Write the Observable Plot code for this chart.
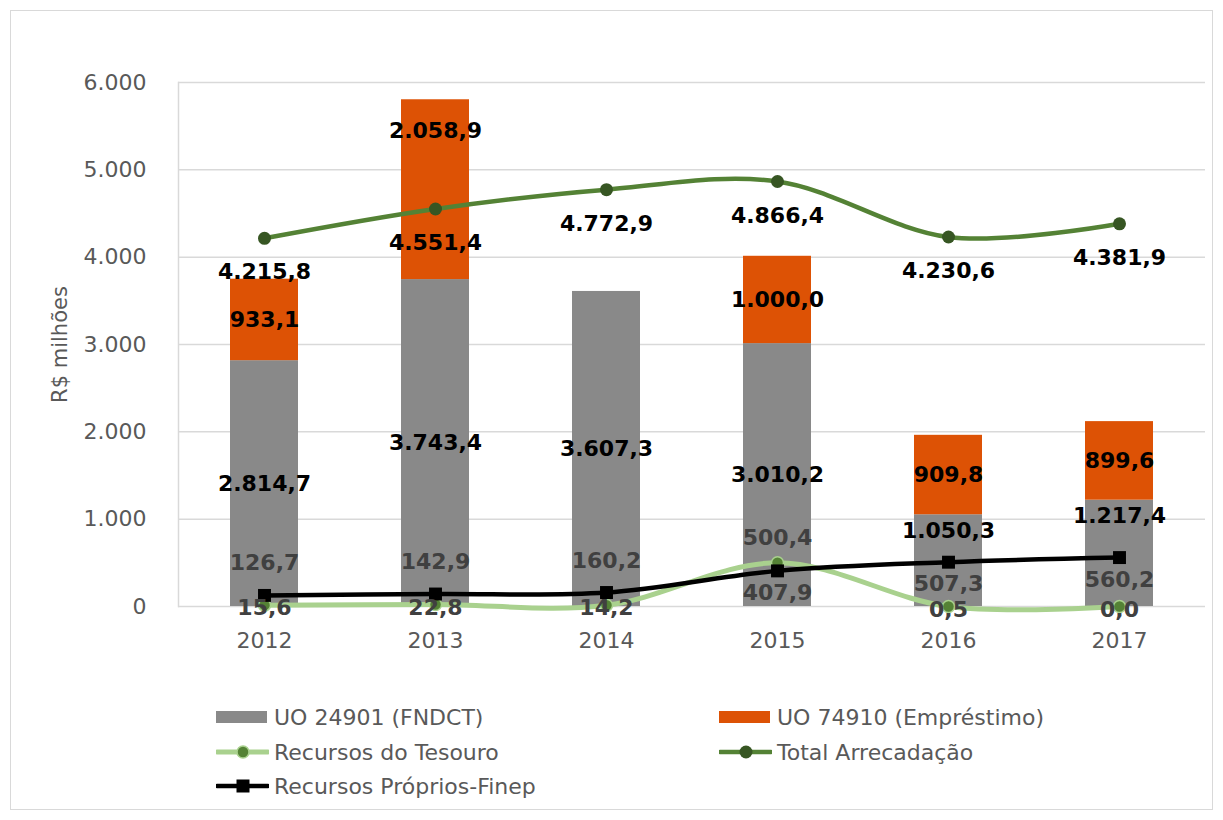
<!DOCTYPE html>
<html>
<head>
<meta charset="utf-8">
<script src="https://cdn.jsdelivr.net/npm/d3@7"></script>
<script src="https://cdn.jsdelivr.net/npm/@observablehq/plot@0.6"></script>
<style>
  html, body { margin: 0; padding: 0; background: #fff; }
  #wrap { position: relative; width: 1223px; height: 820px; overflow: hidden; font-family: "DejaVu Sans", sans-serif; }
  #border { position: absolute; left: 10px; top: 10px; width: 1201px; height: 798px; border: 1.5px solid #d9d9d9; }
  #chart { position: absolute; left: 0; top: 0; }
  #legend { position: absolute; left: 0; top: 0; width: 1223px; height: 820px; pointer-events: none; }
  .item { position: absolute; display: flex; align-items: center; height: 30px; font-size: 22px; color: #595959; white-space: nowrap; }
  .item svg { display: block; margin-right: 5px; }
</style>
</head>
<body>
<div id="wrap">
  <div id="border"></div>
  <div id="chart"></div>
  <div id="legend"></div>
</div>
<script>
// ---- data ----
const years = ["2012", "2013", "2014", "2015", "2016", "2017"];
const fndct = [2814.7, 3743.4, 3607.3, 3010.2, 1050.3, 1217.4];
const emprestimo = [933.1, 2058.9, 0, 1000.0, 909.8, 899.6];
const tesouro = [15.6, 22.8, 14.2, 500.4, 0.5, 0.0];
const totalArrecadacao = [4215.8, 4551.4, 4772.9, 4866.4, 4230.6, 4381.9];
const recursosFinep = [126.7, 142.9, 160.2, 407.9, 507.3, 560.2];
const yTicks = [0, 1000, 2000, 3000, 4000, 5000, 6000];
const seriesNames = ["UO 24901 (FNDCT)", "UO 74910 (Empréstimo)", "Recursos do Tesouro", "Total Arrecadação", "Recursos Próprios-Finep"];

// ---- formatting ----
const locale = d3.formatLocale({decimal: ",", thousands: ".", grouping: [3], currency: ["R$ ", ""]});
const fmtTick = locale.format(",.0f");
const fmtVal = locale.format(",.1f");

const C = {
  gray: "#898989", orange: "#dd5205",
  tesouroLine: "#a9d18e", tesouroDot: "#548235",
  totalLine: "#548235", totalDot: "#375623",
  finep: "#000000", label: "#404040", axis: "#595959", grid: "#d9d9d9"
};

// ---- derived tables ----
const grayBars = years.map((year, i) => {
  const mid = fndct[i] / 2;
  const crowded = Math.abs(mid - recursosFinep[i]) < 300;
  return {year, y1: 0, y2: fndct[i], value: fndct[i], crowded};
});
const orangeBars = years.map((year, i) => {
  const lo = fndct[i], hi = fndct[i] + emprestimo[i];
  const mid = (lo + hi) / 2;
  const crowded = Math.abs(mid - totalArrecadacao[i]) < 400;
  return {year, y1: lo, y2: hi, value: emprestimo[i], crowded};
}).filter(d => d.value > 0);

const line = arr => years.map((year, i) => ({year, value: arr[i]}));
const tes = line(tesouro);
const tot = line(totalArrecadacao);
const fin = line(recursosFinep);

const labelFont = {fontSize: 22, fontWeight: "bold", fontFamily: "DejaVu Sans"};

const chart = Plot.plot({
  width: 1223,
  height: 670,
  marginTop: 82,
  marginBottom: 64,
  marginLeft: 178,
  marginRight: 18,
  style: {fontFamily: "DejaVu Sans", fontSize: "22px", color: C.axis, background: "transparent", overflow: "visible"},
  x: {type: "band", domain: years, paddingInner: 0.6, paddingOuter: 0.3, label: null},
  y: {domain: [0, 6000], label: null},
  marks: [
    Plot.gridY(yTicks, {stroke: C.grid, strokeOpacity: 1, strokeWidth: 1.5}),
    Plot.frame({anchor: "left", stroke: C.grid, strokeWidth: 1.5}),
    Plot.axisY(yTicks, {tickSize: 0, tickPadding: 32, tickFormat: fmtTick, fontSize: 22, fill: C.axis, label: null}),
    Plot.axisX({tickSize: 0, tickPadding: 26, fontSize: 22, fill: C.axis, label: null}),
    Plot.text(["R$ milhões"], {frameAnchor: "left", textAnchor: "middle", rotate: -90, dx: -118, fontSize: 21, fill: C.axis}),
    // bars
    Plot.barY(grayBars, {x: "year", y1: "y1", y2: "y2", fill: C.gray}),
    Plot.barY(orangeBars, {x: "year", y1: "y1", y2: "y2", fill: C.orange}),
    // bar labels
    Plot.text(grayBars.filter(d => !d.crowded), {x: "year", y: d => d.y2 / 2, text: d => fmtVal(d.value), fill: "#000", ...labelFont}),
    Plot.text(grayBars.filter(d => d.crowded), {x: "year", y: "y2", dy: 16, text: d => fmtVal(d.value), fill: "#000", ...labelFont}),
    Plot.text(orangeBars.filter(d => !d.crowded), {x: "year", y: d => (d.y1 + d.y2) / 2, text: d => fmtVal(d.value), fill: "#000", ...labelFont}),
    Plot.text(orangeBars.filter(d => d.crowded), {x: "year", y: "y2", dy: 31, text: d => fmtVal(d.value), fill: "#000", ...labelFont}),
    // lines
    Plot.line(tes, {x: "year", y: "value", stroke: C.tesouroLine, strokeWidth: 5, curve: "cardinal"}),
    Plot.dot(tes, {x: "year", y: "value", r: 6, fill: C.tesouroDot, stroke: C.tesouroLine, strokeWidth: 1.5}),
    Plot.line(tot, {x: "year", y: "value", stroke: C.totalLine, strokeWidth: 4.5, curve: "cardinal"}),
    Plot.dot(tot, {x: "year", y: "value", r: 6.5, fill: C.totalDot}),
    Plot.line(fin, {x: "year", y: "value", stroke: C.finep, strokeWidth: 4.5, curve: "cardinal"}),
    Plot.dot(fin, {x: "year", y: "value", r: 7.3, symbol: "square", fill: C.finep}),
    // line labels
    Plot.text(tot, {x: "year", y: "value", dy: 34, text: d => fmtVal(d.value), fill: "#000", ...labelFont}),
    Plot.text(tes.filter(d => d.value < 100), {x: "year", y: "value", dy: 3, text: d => fmtVal(d.value), fill: C.label, ...labelFont}),
    Plot.text(tes.filter(d => d.value >= 100), {x: "year", y: "value", dy: -25, text: d => fmtVal(d.value), fill: C.label, ...labelFont}),
    Plot.text(fin.filter(d => d.value < 300), {x: "year", y: "value", dy: -32, text: d => fmtVal(d.value), fill: C.label, ...labelFont}),
    Plot.text(fin.filter(d => d.value >= 300), {x: "year", y: "value", dy: 22, text: d => fmtVal(d.value), fill: C.label, ...labelFont})
  ]
});
document.getElementById("chart").appendChild(chart);

// ---- legend ----
const icons = [
  `<svg width="53" height="14"><rect x="0" y="1" width="51" height="12" fill="${C.gray}"/></svg>`,
  `<svg width="53" height="14"><rect x="0" y="1" width="51" height="12" fill="${C.orange}"/></svg>`,
  `<svg width="53" height="16"><line x1="1" y1="8" x2="52" y2="8" stroke="${C.tesouroLine}" stroke-width="5" stroke-linecap="round"/><circle cx="27" cy="8" r="6" fill="${C.tesouroDot}" stroke="${C.tesouroLine}" stroke-width="1.5"/></svg>`,
  `<svg width="53" height="16"><line x1="1" y1="8" x2="52" y2="8" stroke="${C.totalLine}" stroke-width="4.5" stroke-linecap="round"/><circle cx="27" cy="8" r="6.5" fill="${C.totalDot}"/></svg>`,
  `<svg width="53" height="16"><line x1="1" y1="8" x2="52" y2="8" stroke="${C.finep}" stroke-width="4.5" stroke-linecap="round"/><rect x="20.5" y="1.5" width="13" height="13" fill="${C.finep}"/></svg>`
];
const pos = [[216, 717], [719, 717], [216, 752], [719, 752], [216, 786]];
const legend = document.getElementById("legend");
seriesNames.forEach((name, i) => {
  const el = document.createElement("div");
  el.className = "item";
  el.style.left = pos[i][0] + "px";
  el.style.top = (pos[i][1] - 15) + "px";
  el.innerHTML = icons[i] + `<span>${name}</span>`;
  legend.appendChild(el);
});
</script>
</body>
</html>
